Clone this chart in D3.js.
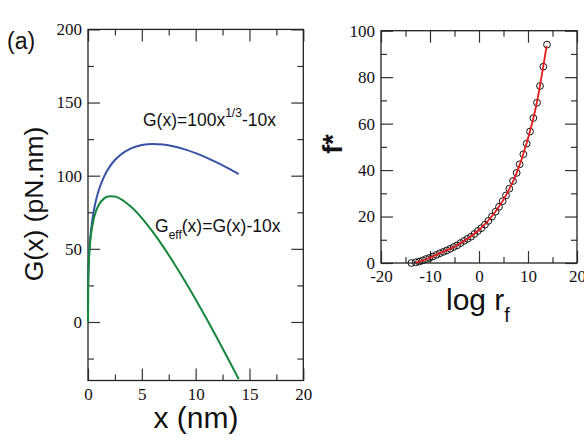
<!DOCTYPE html>
<html>
<head>
    <meta charset="utf-8">
    <title>G(x) and f* panels</title>
    <script src="https://d3js.org/d3.v7.min.js"></script>
    <style>
        body { margin: 0; background: #fff; }
        .tick text { font-family: "Liberation Serif", serif; font-size: 17px; fill: #111; }
        .domain, .tick line { stroke: #333; stroke-width: 1.2; }
        .title { font-family: "Liberation Sans", Arial, sans-serif; fill: #111; }
    </style>
</head>
<body>
    <div id="chart"></div>

    <script>
        // Left panel: G(x) and G_eff(x)
        var xNm = [0, 0.01, 0.05, 0.1, 0.2, 0.3, 0.5, 0.75, 1, 1.5, 2, 2.5, 3, 4, 5, 6, 7, 8, 9, 10, 11, 12, 13, 14];
        var gBlue = [0, 21.5, 36.3, 45.4, 56.5, 63.9, 74.4, 83.4, 90, 99.5, 106, 110.7, 114.2, 118.7, 121, 121.7, 121.3, 120, 118, 115.4, 112.4, 108.9, 105.1, 101];
        var gGreen = [0, 21.4, 35.8, 44.4, 54.5, 60.9, 69.4, 75.9, 80, 84.5, 86, 85.7, 84.2, 78.7, 71, 61.7, 51.3, 40, 28, 15.4, 2.4, -11.1, -24.9, -39];

        // Right panel: f* vs log r_f (circles) and fitted red line
        var logR = [-13.8, -12.92, -12.22, -11.51, -10.81, -10.10, -9.40, -8.69, -7.99, -7.28, -6.58, -5.87, -5.17, -4.46, -3.76, -3.05, -2.35, -1.64, -0.94, -0.23,
                    0.48, 1.22, 1.90, 2.65, 3.40, 4.08, 4.83, 5.51, 6.19, 6.94, 7.69, 8.30, 9.05, 9.73, 10.41, 11.09, 11.84, 12.45, 13.13, 13.88];
        var fStar = [0.0, 0.3, 0.6, 1.1, 1.7, 2.2, 2.8, 3.5, 4.2, 4.8, 5.4, 6.1, 6.9, 7.6, 8.6, 9.5, 10.4, 11.3, 12.5, 13.8,
                     15.0, 16.5, 18.1, 20.0, 22.1, 24.2, 26.6, 29.1, 32.0, 35.3, 38.8, 42.5, 46.8, 51.4, 56.6, 62.4, 69.0, 76.2, 84.5, 94.0];
        var fitLogR = [-12.9, -12, -10, -7.6, -5, -2.45, 0, 1.9, 3.6, 5.5, 7.7, 9.7, 11.8, 13.8];
        var fitF = [0.2, 0.7, 2.3, 4.6, 7.0, 10.3, 14.2, 18.3, 22.8, 29.1, 38.8, 51.4, 69.0, 93.5];

        // Tick values
        var leftXMajor = [0, 5, 10, 15, 20], leftXMinor = [2.5, 7.5, 12.5, 17.5];
        var leftYMajor = [0, 50, 100, 150, 200], leftYMinor = [-25, 25, 75, 125, 175];
        var rightXMajor = [-20, -10, 0, 10, 20], rightXMinor = [-15, -5, 5, 15];
        var rightYMajor = [0, 20, 40, 60, 80, 100], rightYMinor = [10, 30, 50, 70, 90];

        var svg = d3.select("#chart")
            .append("svg")
            .attr("width", 584)
            .attr("height", 443);

        // Draw a framed box with inward ticks on all four sides
        function frame(x, y, xMaj, xMin, yMaj, yMin) {
            var x0 = x.range()[0], x1 = x.range()[1];
            var y0 = y.range()[0], y1 = y.range()[1];
            var fmt = function (d) { return String(d); };

            svg.append("g").attr("transform", "translate(0," + y0 + ")")
                .call(d3.axisBottom(x).tickValues(xMaj).tickSize(-12).tickPadding(7).tickFormat(fmt));
            svg.append("g").attr("transform", "translate(0," + y0 + ")")
                .call(d3.axisBottom(x).tickValues(xMin).tickSize(-6).tickFormat(""));
            svg.append("g").attr("transform", "translate(0," + y1 + ")")
                .call(d3.axisTop(x).tickValues(xMaj).tickSize(-12).tickFormat(""));
            svg.append("g").attr("transform", "translate(0," + y1 + ")")
                .call(d3.axisTop(x).tickValues(xMin).tickSize(-6).tickFormat(""));

            svg.append("g").attr("transform", "translate(" + x0 + ",0)")
                .call(d3.axisLeft(y).tickValues(yMaj).tickSize(-12).tickPadding(6).tickFormat(fmt));
            svg.append("g").attr("transform", "translate(" + x0 + ",0)")
                .call(d3.axisLeft(y).tickValues(yMin).tickSize(-6).tickFormat(""));
            svg.append("g").attr("transform", "translate(" + x1 + ",0)")
                .call(d3.axisRight(y).tickValues(yMaj).tickSize(-12).tickFormat(""));
            svg.append("g").attr("transform", "translate(" + x1 + ",0)")
                .call(d3.axisRight(y).tickValues(yMin).tickSize(-6).tickFormat(""));

            svg.selectAll(".domain").remove();
            svg.append("rect")
                .attr("x", x0).attr("y", y1)
                .attr("width", x1 - x0).attr("height", y0 - y1)
                .attr("fill", "none").attr("stroke", "#222").attr("stroke-width", 1.3);
        }

        // ---- Left panel ----
        var xL = d3.scaleLinear().domain([0, 20]).range([88, 303.3]);
        var yL = d3.scaleLinear().domain([-40, 200]).range([380.5, 29.4]);
        frame(xL, yL, leftXMajor, leftXMinor, leftYMajor, leftYMinor);

        var lineL = function (ys) {
            return d3.line()
                .x(function (d, i) { return xL(xNm[i]); })
                .y(function (d) { return yL(d); })
                .curve(d3.curveMonotoneX)(ys);
        };
        svg.append("path").attr("d", lineL(gBlue))
            .attr("fill", "none").attr("stroke", "#3653a5").attr("stroke-width", 2);
        svg.append("path").attr("d", lineL(gGreen))
            .attr("fill", "none").attr("stroke", "#17873c").attr("stroke-width", 2);

        var t1 = svg.append("text").attr("class", "title").attr("x", 143).attr("y", 126).style("font-size", "17.5px");
        t1.append("tspan").text("G(x)=100x");
        t1.append("tspan").attr("dy", -9).style("font-size", "12px").text("1/3");
        t1.append("tspan").attr("dy", 9).text("-10x");

        var t2 = svg.append("text").attr("class", "title").attr("x", 155).attr("y", 231.5).style("font-size", "17.5px");
        t2.append("tspan").text("G");
        t2.append("tspan").attr("dy", 7).style("font-size", "12px").text("eff");
        t2.append("tspan").attr("dy", -7).text("(x)=G(x)-10x");

        svg.append("text").attr("class", "title")
            .attr("x", 196).attr("y", 428).attr("text-anchor", "middle")
            .style("font-size", "30px").text("x (nm)");
        svg.append("text").attr("class", "title")
            .attr("transform", "translate(43,204) rotate(-90)").attr("text-anchor", "middle")
            .style("font-size", "26.5px").text("G(x) (pN.nm)");
        svg.append("text").attr("class", "title")
            .attr("x", 7).attr("y", 49).style("font-size", "23px").text("(a)");

        // ---- Right panel ----
        var xR = d3.scaleLinear().domain([-20, 20]).range([381, 577]);
        var yR = d3.scaleLinear().domain([0, 100]).range([263, 30.7]);
        frame(xR, yR, rightXMajor, rightXMinor, rightYMajor, rightYMinor);

        svg.selectAll(".pt")
            .data(fStar)
            .enter().append("circle")
            .attr("class", "pt")
            .attr("cx", function (d, i) { return xR(logR[i]); })
            .attr("cy", function (d) { return yR(d); })
            .attr("r", 3.4)
            .attr("fill", "none").attr("stroke", "#111").attr("stroke-width", 1);

        svg.append("path")
            .attr("d", d3.line()
                .x(function (d, i) { return xR(fitLogR[i]); })
                .y(function (d) { return yR(d); })
                .curve(d3.curveMonotoneX)(fitF))
            .attr("fill", "none").attr("stroke", "#e41a1c").attr("stroke-width", 1.8);

        var t3 = svg.append("text").attr("class", "title").attr("x", 446).attr("y", 310).style("font-size", "30px");
        t3.append("tspan").text("log r");
        t3.append("tspan").attr("dy", 12).style("font-size", "20px").text("f");

        svg.append("text").attr("class", "title")
            .attr("transform", "translate(342,144) rotate(-90)").attr("text-anchor", "middle")
            .style("font-size", "27px").style("font-weight", "bold").text("f*");
    </script>
</body>
</html>
